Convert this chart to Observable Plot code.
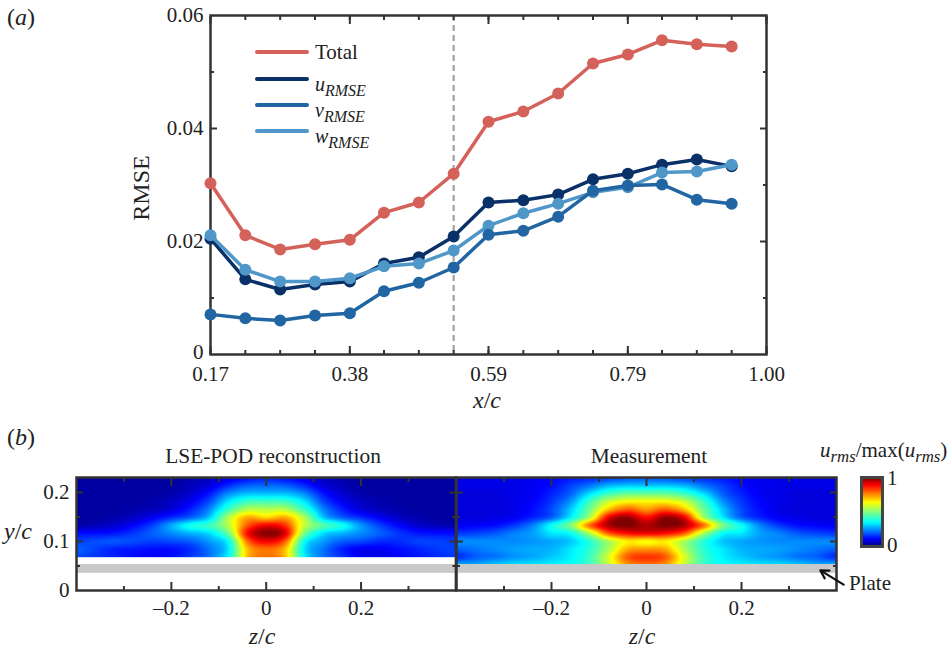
<!DOCTYPE html>
<html><head><meta charset="utf-8">
<script src="https://cdn.jsdelivr.net/npm/d3@7"></script>
<script src="https://cdn.jsdelivr.net/npm/@observablehq/plot@0.6"></script>
<style>
html,body{margin:0;padding:0;background:#fff;overflow:hidden}
#root{position:relative;width:949px;height:649px;font-family:"Liberation Serif",serif;color:#222}
#root>div.p{position:absolute}
#root svg{display:block;overflow:visible;background:transparent}
.t{position:absolute;white-space:nowrap;line-height:1;color:#222}
.t sub{font-size:.8em;vertical-align:baseline;position:relative;top:.32em;line-height:0}
.s{position:absolute;height:4px;border-radius:2px;width:54px;left:255px}
</style></head><body><div id="root"></div>
<script>
// ---------- panel (a) data ----------
const xPositions=[.170,.222,.274,.326,.378,.429,.481,.533,.585,.637,.689,.741,.793,.844,.896,.948];
const xAllTicks=[.170,.222,.274,.326,.378,.429,.481,.533,.585,.637,.689,.741,.793,.844,.896,.948,1.0];
const xLabelTicks=[.170,.378,.585,.793,1.0];
const xLabelText=["0.17","0.38","0.59","0.79","1.00"];
const totalRMSE=[.0303,.0211,.0186,.0195,.0203,.0251,.0269,.0320,.0412,.0430,.0462,.0515,.0531,.0556,.0549,.0545];
const uRMSE=[.0205,.0133,.0115,.0124,.0129,.0161,.0172,.0209,.0269,.0273,.0283,.0310,.0320,.0336,.0345,.0333];
const vRMSE=[.0071,.0064,.0060,.0069,.0073,.0112,.0127,.0154,.0212,.0219,.0244,.0290,.0299,.0301,.0274,.0267];
const wRMSE=[.0211,.0150,.0129,.0129,.0135,.0156,.0161,.0184,.0228,.0250,.0267,.0287,.0296,.0322,.0324,.0336];
const seriesColors={total:"#d4625a",u:"#0a3068",v:"#2166a3",w:"#4f97c8"};

// ---------- panel (b) data ----------
const zLevels=[-.4,-.36,-.32,-.28,-.24,-.2,-.16,-.12,-.08,-.04,0,.04,.08,.12,.16,.2,.24,.28,.32,.36,.4];
const yLevels=[.23,.214,.198,.182,.166,.149,.133,.117,.101,.084,.068,.052];
const reconstruction=[
[.03,.03,.03,.03,.03,.03,.04,.06,.09,.12,.14,.12,.09,.06,.04,.03,.03,.03,.03,.03,.03],
[.03,.03,.03,.03,.03,.03,.05,.08,.15,.2,.21,.2,.15,.08,.05,.03,.03,.03,.03,.03,.03],
[.03,.03,.03,.03,.03,.04,.07,.13,.24,.29,.29,.29,.24,.13,.07,.04,.03,.03,.03,.03,.03],
[.03,.03,.03,.03,.04,.06,.1,.18,.33,.42,.43,.42,.33,.18,.1,.06,.04,.03,.03,.03,.03],
[.03,.03,.03,.04,.05,.08,.14,.24,.42,.56,.56,.56,.42,.24,.14,.08,.05,.04,.03,.03,.03],
[.03,.03,.04,.06,.1,.15,.2,.3,.55,.72,.68,.72,.55,.3,.2,.15,.1,.06,.04,.03,.03],
[.04,.05,.07,.11,.17,.27,.37,.42,.56,.8,.9,.84,.58,.45,.37,.25,.17,.11,.07,.05,.04],
[.12,.12,.13,.16,.2,.24,.28,.32,.48,.88,.99,.92,.5,.32,.28,.24,.2,.16,.13,.12,.12],
[.17,.18,.19,.18,.17,.18,.2,.26,.36,.78,.9,.8,.37,.26,.2,.18,.15,.15,.17,.17,.16],
[.2,.17,.14,.13,.12,.12,.15,.22,.33,.7,.78,.7,.33,.22,.14,.1,.1,.12,.14,.16,.17],
[.18,.16,.14,.12,.11,.12,.16,.22,.35,.7,.78,.7,.35,.22,.16,.1,.09,.11,.13,.15,.16]
];
const measurement=[
[.09,.09,.09,.09,.1,.11,.13,.15,.17,.19,.2,.19,.17,.15,.13,.11,.1,.09,.09,.09,.09],
[.09,.09,.09,.09,.1,.12,.17,.22,.28,.3,.3,.3,.28,.22,.17,.12,.1,.09,.09,.09,.09],
[.08,.08,.08,.09,.1,.14,.2,.32,.42,.47,.47,.47,.42,.32,.2,.14,.1,.09,.08,.08,.08],
[.08,.08,.08,.09,.11,.16,.25,.42,.58,.64,.64,.64,.58,.42,.25,.16,.11,.09,.08,.08,.08],
[.08,.08,.08,.09,.12,.18,.3,.48,.7,.8,.74,.8,.7,.48,.3,.18,.12,.09,.08,.08,.08],
[.08,.08,.09,.1,.14,.2,.34,.55,.9,.98,.88,.98,.9,.55,.34,.2,.14,.1,.09,.08,.08],
[.1,.11,.12,.16,.23,.36,.5,.78,.96,1,.96,1,.96,.78,.5,.36,.23,.16,.12,.11,.1],
[.16,.17,.19,.23,.26,.33,.36,.55,.8,.88,.9,.88,.8,.55,.36,.33,.26,.23,.19,.17,.16],
[.24,.24,.24,.24,.25,.27,.3,.4,.55,.66,.64,.66,.55,.4,.3,.27,.25,.24,.24,.24,.24],
[.2,.22,.24,.26,.27,.28,.33,.4,.55,.72,.74,.72,.55,.4,.33,.28,.27,.26,.24,.22,.2],
[.15,.2,.22,.25,.27,.3,.34,.42,.6,.8,.84,.8,.6,.42,.34,.3,.27,.25,.22,.2,.15],
[.28,.27,.3,.32,.33,.34,.36,.42,.58,.74,.78,.74,.58,.42,.36,.34,.33,.32,.3,.27,.28]
];
const jetStops=[0,.11,.35,.5,.64,.89,1];
const jetColors=["#00007f","#0000ff","#00ffff","#7fff7f","#ffff00","#ff0000","#7f0000"];
const zMajor=[-.2,0,.2], zMinor=[-.3,-.1,.1,.3];
const yMajor=[.1,.2], yMinor=[.05,.15], yLabelled=[0,.1,.2];
const plateBand=[{x1:-.4,x2:.4,y1:.035,y2:.053}];
const plateArrow=[{x1:.415,y1:.012,x2:.366,y2:.041}];
const legendItems=[["total",52],["u",79],["v",105],["w",131]];

const FONT="'Liberation Serif',serif", AX="#333";
const root=document.getElementById("root");
function place(el,l,t){const d=document.createElement("div");d.className="p";d.style.left=l+"px";d.style.top=t+"px";d.appendChild(el);root.appendChild(d);}
function text(html,x,y,size,anchor="start",rot=0){const e=document.createElement("div");e.className="t";e.innerHTML=html;e.style.fontSize=size+"px";e.style.left=x+"px";e.style.top=y+"px";
 const tx=anchor==="middle"?"-50%":anchor==="end"?"-100%":"0";e.style.transform=`translate(${tx},-50%)`+(rot?` rotate(${rot}deg)`:"");root.appendChild(e);}
const tickAxis=(fn,anchor,ticks,size,w=2)=>fn({anchor,ticks,tickSize:-size,tickFormat:()=>"",label:null,stroke:AX,strokeWidth:w});

// ---------- panel (a) ----------
const rows=k=>xPositions.map((x,i)=>({x,v:k[i]}));
const line=(k,c)=>[Plot.line(rows(k),{x:"x",y:"v",stroke:c,strokeWidth:3.5}),Plot.dot(rows(k),{x:"x",y:"v",r:6,fill:c,stroke:"none"})];
const panelA=Plot.plot({width:949,height:415,marginLeft:210,marginRight:183,marginTop:15,marginBottom:61,
 x:{domain:[.17,1],axis:null},y:{domain:[0,.06],axis:null},style:{fontFamily:FONT,background:"transparent"},
 marks:[
  Plot.ruleX([.533],{stroke:"#a3a3a3",strokeWidth:2.2,strokeDasharray:"6,4"}),
  Plot.frame({stroke:AX,strokeWidth:2.5}),
  tickAxis(Plot.axisX,"bottom",xAllTicks,4),tickAxis(Plot.axisX,"top",xAllTicks,4),
  tickAxis(Plot.axisX,"bottom",xLabelTicks,8),tickAxis(Plot.axisX,"top",xLabelTicks,8),
  tickAxis(Plot.axisY,"left",[.01,.03,.05],4),tickAxis(Plot.axisY,"right",[.01,.03,.05],4),
  tickAxis(Plot.axisY,"left",[.02,.04],7),tickAxis(Plot.axisY,"right",[.02,.04],7),
  Plot.axisX({anchor:"bottom",ticks:xLabelTicks,tickSize:0,tickPadding:12,fontSize:21,stroke:"none",fill:"#222",label:null,tickFormat:d=>xLabelText[xLabelTicks.indexOf(d)]}),
  Plot.axisY({anchor:"left",ticks:[.02,.04,.06],tickSize:0,tickPadding:7,fontSize:21,stroke:"none",fill:"#222",label:null,tickFormat:d=>d.toFixed(2)}),
  Plot.axisY({anchor:"left",ticks:[0],tickSize:0,tickPadding:7,dy:-2,fontSize:21,stroke:"none",fill:"#222",label:null,tickFormat:()=>"0"}),
  ...line(totalRMSE,seriesColors.total),...line(uRMSE,seriesColors.u),...line(wRMSE,seriesColors.w),...line(vRMSE,seriesColors.v)
 ]});
place(panelA,0,0);

// Bicubic rendering of a coarse value grid through Plot's raster interpolate hook
function gridInterpolate(nx,ny){
 return (index,w,h,X,Y,V)=>{
  const a=index[0],b=index[index.length-1];
  const out=new Float64Array(w*h);
  const at=(i,j)=>V[index[Math.max(0,Math.min(ny-1,j))*nx+Math.max(0,Math.min(nx-1,i))]];
  const cr=(p0,p1,p2,p3,t)=>p1+.5*t*(p2-p0+t*(2*p0-5*p1+4*p2-p3+t*(3*(p1-p2)+p3-p0)));
  for(let py=0;py<h;py++)for(let px=0;px<w;px++){
   const gx=Math.max(0,Math.min(nx-1,(px+.5-X[a])/(X[b]-X[a])*(nx-1)));
   const gy=Math.max(0,Math.min(ny-1,(py+.5-Y[a])/(Y[b]-Y[a])*(ny-1)));
   const i=Math.floor(gx),j=Math.floor(gy),tx=gx-i,ty=gy-j;
   const r=[-1,0,1,2].map(d=>cr(at(i-1,j+d),at(i,j+d),at(i+1,j+d),at(i+2,j+d),tx));
   out[py*w+px]=Math.max(0,Math.min(1,cr(r[0],r[1],r[2],r[3],ty)));
  }
  return out;
 };
}
const colorScale={type:"linear",domain:jetStops,range:jetColors,clamp:true};
function field(matrix){
 const s=[];matrix.forEach((row,j)=>row.forEach((v,i)=>s.push({z:zLevels[i],y:yLevels[j],v})));
 return Plot.raster(s,{x:"z",y:"y",fill:"v",x1:-.4,x2:.4,y1:yLevels[matrix.length-1],y2:.23,pixelSize:1,interpolate:gridInterpolate(zLevels.length,matrix.length)});
}
function heat(matrix,opts,left,extra=[],leftLabels=false){
 const p=Plot.plot({width:opts.width,height:209,marginLeft:opts.ml,marginRight:opts.mr,marginTop:37,marginBottom:59,
  x:{domain:[-.4,.4],axis:null},y:{domain:[0,.2306],axis:null},color:colorScale,style:{fontFamily:FONT,background:"transparent"},
  marks:[
   field(matrix),
   Plot.rect(plateBand,{x1:"x1",x2:"x2",y1:"y1",y2:"y2",fill:"#c9c9c9"}),
   Plot.frame({stroke:AX,strokeWidth:2.5}),
   tickAxis(Plot.axisX,"bottom",zMajor,8),tickAxis(Plot.axisX,"top",zMajor,8),
   tickAxis(Plot.axisX,"bottom",zMinor,4),tickAxis(Plot.axisX,"top",zMinor,4),
   tickAxis(Plot.axisY,"left",yMajor,7),tickAxis(Plot.axisY,"right",yMajor,7),
   tickAxis(Plot.axisY,"left",yMinor,4),tickAxis(Plot.axisY,"right",yMinor,4),
   Plot.axisX({anchor:"bottom",ticks:zMajor,tickSize:0,tickPadding:10,fontSize:21,stroke:"none",fill:"#222",label:null,tickFormat:d=>d===0?"0":d<0?"–"+Math.abs(d).toFixed(1):d.toFixed(1)}),
   ...(leftLabels?[Plot.axisY({anchor:"left",ticks:yLabelled,tickSize:0,tickPadding:7,fontSize:21,stroke:"none",fill:"#222",label:null,tickFormat:d=>d===0?"0":d.toFixed(1)})]:[]),
   ...extra
  ]});
 place(p,left,440);
}
heat(reconstruction,{width:470,ml:76,mr:14.6},0,[],true);
heat(measurement,{width:499,ml:6,mr:113},450,[
 Plot.arrow(plateArrow,{x1:"x1",y1:"y1",x2:"x2",y2:"y2",stroke:"#111",strokeWidth:2.2,headLength:9,bend:0})
]);

// colour bar
const bar=Plot.plot({width:21,height:69,margin:0,x:{domain:[0,1],axis:null},y:{domain:[0,1],axis:null},color:colorScale,style:{background:"transparent"},
 marks:[Plot.raster({fill:(x,y)=>y,x1:0,x2:1,y1:0,y2:1,pixelSize:1}),Plot.frame({stroke:"#444",strokeWidth:3})]});
place(bar,861,477);

// legend swatches and labels
legendItems.forEach(([k,y])=>{const s=document.createElement("div");s.className="s";s.style.top=(y-2)+"px";s.style.background=seriesColors[k];root.appendChild(s);});
text("Total",315,52,21);
text("<i>u<sub>RMSE</sub></i>",315,84,20);
text("<i>v<sub>RMSE</sub></i>",315,110,20);
text("<i>w<sub>RMSE</sub></i>",315,136,20);
// texts
text("(<i>a</i>)",7,17,24);
text("(<i>b</i>)",7,437,24);
text("RMSE",141,188,24,"middle",-90);
text("<i>x</i>/<i>c</i>",487,400,24,"middle");
text("<i>y</i>/<i>c</i>",4,531,24);
text("<i>z</i>/<i>c</i>",262,636,24,"middle");
text("<i>z</i>/<i>c</i>",642,636,24,"middle");
text("LSE-POD reconstruction",273,457,21.4,"middle");
text("Measurement",649,457,21.4,"middle");
text("<i>u<sub>rms</sub></i>/max(<i>u<sub>rms</sub></i>)",820,450,21);
text("1",887,478,21);
text("0",887,545,21);
text("Plate",849,583,21);
</script></body></html>
